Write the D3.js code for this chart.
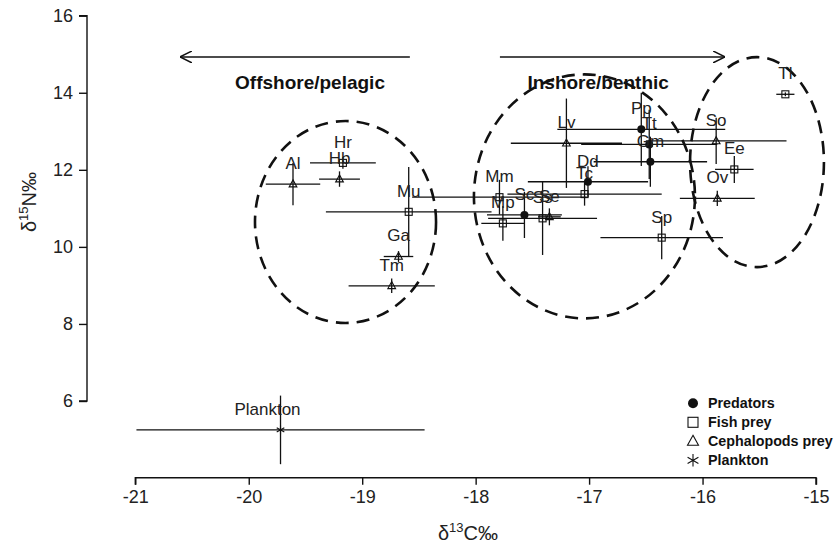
<!DOCTYPE html>
<html><head><meta charset="utf-8">
<script src="https://cdn.jsdelivr.net/npm/d3@7"></script>
<style>
body{margin:0;background:#fff;}
svg{display:block;font-family:"Liberation Sans",Arial,sans-serif;}
</style></head><body>
<svg id="c" width="837" height="549"></svg>
<script>
// ---- data ----
const names = ["Al","Hr","Hb","Mu","Ga","Tm","Mm","Mp","Sc","Ss","Se","Lv","Dd","Tc","Pp","Tt","Gm","Sp","So","Ee","Ov","Tl","Plankton"];
const groups = ["ceph","fish","ceph","fish","ceph","ceph","fish","fish","pred","fish","ceph","ceph","pred","fish","pred","pred","pred","fish","ceph","fish","ceph","fish","plank"];
const d13C = [-19.61,-19.17,-19.20,-18.59,-18.68,-18.74,-17.79,-17.76,-17.57,-17.41,-17.35,-17.20,-17.01,-17.04,-16.54,-16.47,-16.46,-16.36,-15.88,-15.72,-15.87,-15.27,-19.72];
const d15N = [11.63,12.18,11.76,10.91,9.75,8.99,11.29,10.61,10.83,10.74,10.78,12.69,11.69,11.37,13.05,12.66,12.21,10.24,12.75,12.01,11.26,13.96,5.25];
const sdC  = [0.24,0.29,0.18,0.73,0.13,0.38,0.77,0.19,0.33,0.48,0.10,0.49,0.53,0.68,0.74,0.60,0.50,0.54,0.62,0.17,0.33,0.08,1.27];
const sdN  = [0.55,0.15,0.20,1.16,0.14,0.19,0.45,0.45,0.60,0.95,0.22,1.16,0.40,0.30,0.95,0.90,0.65,0.56,0.60,0.35,0.20,0.05,0.89];
const xTicks = [-21,-20,-19,-18,-17,-16,-15];
const yTicks = [6,8,10,12,14,16];
const ellCx = [-19.147,-17.041,-15.52];
const ellCy = [10.646,11.31,12.2];
const ellRx = [0.798,0.974,0.59];
const ellRy = [2.62,3.166,2.725];
const arrowFrom = [-18.58,-17.786];
const arrowTo = [-20.605,-15.803];
const arrowY = 14.93;
const arrowLabels = ["Offshore/pelagic","Inshore/benthic"];
const arrowLabelX = [-19.46,-16.92];
const legendLabels = ["Predators","Fish prey","Cephalopods prey","Plankton"];
const legendGroups = ["pred","fish","ceph","plank"];

// ---- scales ----
const svg = d3.select("#c");
const x = d3.scaleLinear().domain([-21,-15]).range([135.3,816]);
const y = d3.scaleLinear().domain([6,16]).range([401,15.7]);
const ink = "#111";

// axes
const yAx = svg.append("g").attr("transform","translate(87,0)")
  .call(d3.axisLeft(y).tickValues(yTicks).tickSize(8).tickPadding(6).tickFormat(d3.format("d")));
const xAx = svg.append("g").attr("transform","translate(0,477.7)")
  .call(d3.axisBottom(x).tickValues(xTicks).tickSize(7).tickPadding(6).tickFormat(d=>String(d).replace("−","-")));
[yAx,xAx].forEach(g=>{
  g.selectAll("path").attr("stroke",ink).attr("stroke-width",1.4);
  g.selectAll("line").attr("stroke",ink).attr("stroke-width",1.4);
  g.selectAll("text").attr("font-size",18).attr("fill","#222").attr("font-family","Liberation Sans, Arial, sans-serif");
});
yAx.select(".domain").attr("d",`M-8,${y(16)}H0V${y(6)}H-8`);
xAx.select(".domain").attr("d",`M${x(-21)},7V0H${x(-15)}V7`);

// axis titles
const xt = svg.append("text").attr("x",468).attr("y",540).attr("text-anchor","middle").attr("fill","#222");
xt.append("tspan").attr("font-size",20).text("δ");
xt.append("tspan").attr("font-size",13).attr("dy",-8).text("13");
xt.append("tspan").attr("font-size",20).attr("dy",8).text("C‰");
const yt = svg.append("text").attr("transform","translate(36,202) rotate(-90)").attr("text-anchor","middle").attr("fill","#222");
yt.append("tspan").attr("font-size",20).text("δ");
yt.append("tspan").attr("font-size",13).attr("dy",-8).text("15");
yt.append("tspan").attr("font-size",20).attr("dy",8).text("N‰");

// ellipses
svg.append("g").selectAll("ellipse").data(ellCx).join("ellipse")
  .attr("cx",(d,i)=>x(d)).attr("cy",(d,i)=>y(ellCy[i]))
  .attr("rx",(d,i)=>x(d+ellRx[i])-x(d)).attr("ry",(d,i)=>y(ellCy[i])-y(ellCy[i]+ellRy[i]))
  .attr("fill","none").attr("stroke",ink).attr("stroke-width",2.6).attr("stroke-dasharray","13,8");

// arrows
const defs = svg.append("defs");
defs.append("marker").attr("id","ah").attr("viewBox","0 0 10 10").attr("refX",10).attr("refY",5)
  .attr("markerWidth",12).attr("markerHeight",12).attr("markerUnits","userSpaceOnUse").attr("orient","auto")
  .append("path").attr("d","M0,0L10,5L0,10").attr("fill","none").attr("stroke",ink).attr("stroke-width",1.3);
svg.append("g").selectAll("line").data(arrowFrom).join("line")
  .attr("x1",d=>x(d)).attr("x2",(d,i)=>x(arrowTo[i])).attr("y1",y(arrowY)).attr("y2",y(arrowY))
  .attr("stroke",ink).attr("stroke-width",1.4).attr("marker-end","url(#ah)");
svg.append("g").selectAll("text").data(arrowLabels).join("text")
  .attr("x",(d,i)=>x(arrowLabelX[i])).attr("y",y(arrowY)+32).attr("text-anchor","middle")
  .attr("font-size",19).attr("font-weight","bold").attr("fill","#111").text(d=>d);

// points table
const pts = names.map((n,i)=>({n,g:groups[i],c:d13C[i],N:d15N[i],sc:sdC[i],sn:sdN[i]}));

// error bars
const eb = svg.append("g").attr("stroke",ink).attr("stroke-width",1.3);
eb.selectAll("line.h").data(pts).join("line").attr("class","h")
  .attr("x1",d=>x(d.c-d.sc)).attr("x2",d=>x(d.c+d.sc)).attr("y1",d=>y(d.N)).attr("y2",d=>y(d.N));
eb.selectAll("line.v").data(pts).join("line").attr("class","v")
  .attr("x1",d=>x(d.c)).attr("x2",d=>x(d.c)).attr("y1",d=>y(d.N-d.sn)).attr("y2",d=>y(d.N+d.sn));

// markers
function marker(sel,g,s){
  if(g==="pred") sel.append("circle").attr("r",s*0.5).attr("fill",ink);
  else if(g==="fish") sel.append("rect").attr("x",-s/2).attr("y",-s/2).attr("width",s).attr("height",s).attr("fill","none").attr("stroke",ink).attr("stroke-width",1.1);
  else if(g==="ceph") sel.append("path").attr("d",`M0,${-s*0.6}L${s*0.55},${s*0.4}L${-s*0.55},${s*0.4}Z`).attr("fill","none").attr("stroke",ink).attr("stroke-width",1.1);
  else sel.append("path").attr("d",d3.symbol(d3.symbolAsterisk,s*s*1.1)()).attr("fill","none").attr("stroke",ink).attr("stroke-width",1.1);
}
svg.append("g").selectAll("g").data(pts).join("g")
  .attr("transform",d=>`translate(${x(d.c)},${y(d.N)})`)
  .each(function(d){ marker(d3.select(this),d.g,d.g==="pred"?8:7); });

// labels
svg.append("g").selectAll("text").data(pts).join("text")
  .attr("x",d=>x(d.c)+(d.n==="Plankton"?-13:0)).attr("y",d=>y(d.N)-21).attr("dy","0.35em")
  .attr("text-anchor","middle").attr("font-size",17).attr("fill","#222").text(d=>d.n);

// legend
const lg = svg.append("g").attr("transform","translate(693,403.3)");
const row = lg.selectAll("g").data(legendLabels).join("g").attr("transform",(d,i)=>`translate(0,${i*19})`);
row.each(function(d,i){ marker(d3.select(this),legendGroups[i],10); });
row.append("text").attr("x",15).attr("dy","0.36em").attr("font-size",14.3).attr("font-weight","bold").attr("fill","#111").text(d=>d);
</script>
</body></html>
